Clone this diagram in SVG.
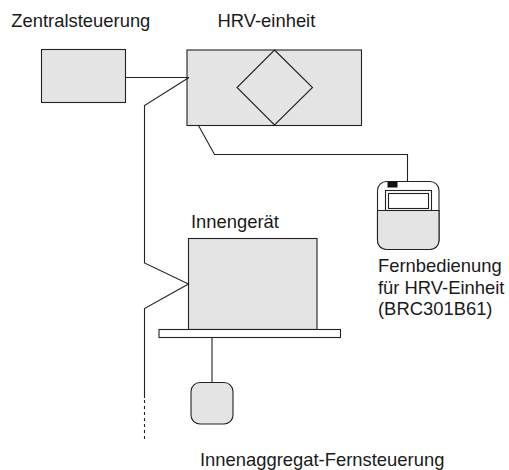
<svg xmlns="http://www.w3.org/2000/svg" width="509" height="470" viewBox="0 0 509 470">
<style>
text{font-family:"Liberation Sans",Arial,sans-serif;font-size:18.4px;fill:#1a1a1a}
.b{fill:#e4e4e4;stroke:#222;stroke-width:1.1}
.w{fill:#fff;stroke:#222;stroke-width:1.1}
.l{fill:none;stroke:#222;stroke-width:1.1}
</style>
<rect width="509" height="470" fill="#fff"/>
<g id="zentral"><rect class="b" x="41.500" y="49.500" width="84" height="53"/><text x="11.300" y="27">Zentralsteuerung</text></g>
<g id="hrv"><rect class="b" x="187" y="50" width="174.500" height="75.500"/><path class="l" d="M274.500 50L312.500 87.500L274.500 125L237 87.500Z"/><text x="217.500" y="27">HRV-einheit</text></g>
<g id="remote"><rect class="w" x="377.500" y="181.500" width="61.500" height="68" rx="9"/><path class="b" d="M377.500 210.500H439V240.500a9 9 0 0 1-9 9H386.500a9 9 0 0 1-9-9Z"/><rect x="387.500" y="181.500" width="10" height="6" fill="#111"/><rect class="w" x="385.500" y="190.500" width="46" height="20"/><rect class="w" x="388.500" y="193.500" width="40" height="15"/><text x="378" y="271.500">Fernbedienung</text><text x="378" y="293.500">für HRV-Einheit</text><text x="378" y="315">(BRC301B61)</text></g>
<g id="innen"><rect class="b" x="188.500" y="238.500" width="128.500" height="91"/><rect class="w" x="159" y="329.500" width="181.500" height="8"/><text x="191" y="228">Innengerät</text></g>
<g id="fern"><rect class="b" x="191" y="382.500" width="42" height="41.500" rx="9"/><text x="200" y="465.500">Innenaggregat-Fernsteuerung</text></g>
<g id="connectors">
<path class="l" d="M125.500 77.500H189"/>
<path class="l" d="M189 77.500L144.500 105.500V263L188.500 284L144.500 308.500V398"/>
<path class="l" stroke-dasharray="3 3" d="M144.500 400V440"/>
<path class="l" d="M198.500 125.500L214.500 154.500H407.500V181.500"/>
<path class="l" d="M212 337.500V382.500"/>
</g>
</svg>
